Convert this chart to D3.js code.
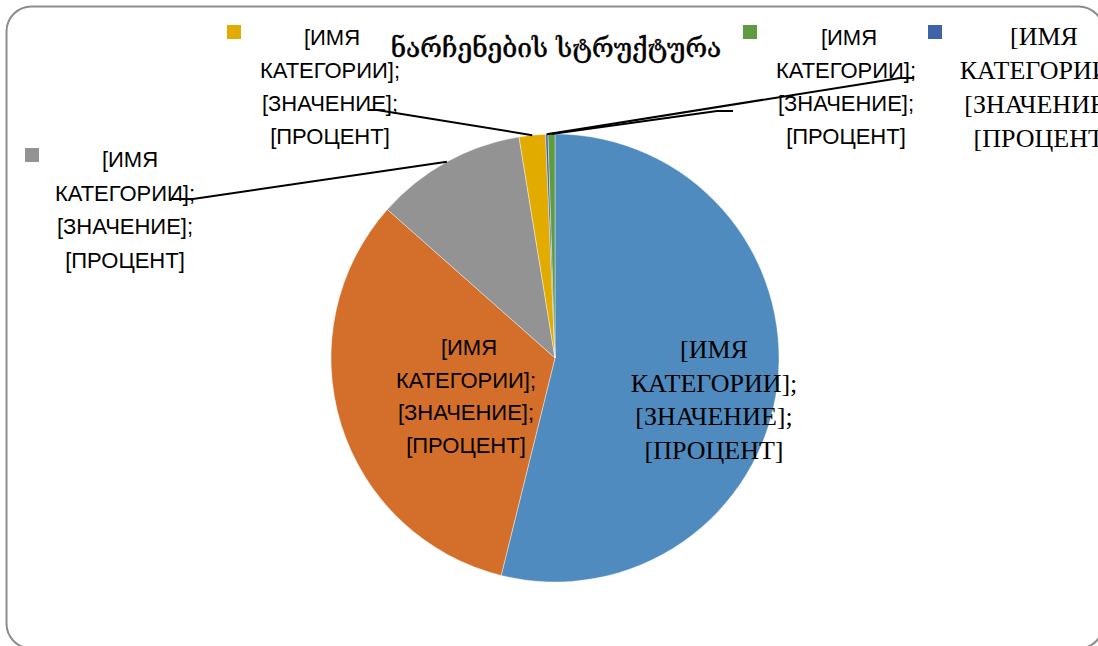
<!DOCTYPE html>
<html>
<head>
<meta charset="utf-8">
<script src="https://cdn.jsdelivr.net/npm/d3@7/dist/d3.min.js"></script>
<style>
  html, body { margin: 0; padding: 0; background: #fff; overflow: hidden; }
  svg { display: block; }
</style>
</head>
<body>
<div id="chart"></div>
<script>
'use strict';

// chart data (pie starts at 12 o'clock, goes clockwise)
const title = 'ნარჩენების სტრუქტურა';
const categories = ['cat1', 'cat2', 'cat3', 'cat4', 'cat5', 'cat6'];
const values = [53.9, 32.7, 10.9, 1.9, 0.17, 0.5];
const colors = ['#4f8bbf', '#d46f2b', '#939393', '#e2ab00', '#3f62ab', '#5f9b3f'];
const labelLines = ['[ИМЯ', 'КАТЕГОРИИ];', '[ЗНАЧЕНИЕ];', '[ПРОЦЕНТ]'];

// label layout per slice
const labelLayout = [
    {x: 714, y: 358, dy: 33.5, serif: true, key: false, firstX: 714, line: null},
    {x: 466, y: 355, dy: 32.5, serif: false, key: false, firstX: 469, line: null},
    {x: 125, y: 167, dy: 33.5, serif: false, key: [25, 148], firstX: 130, line: [[193, 199], [170, 199]]},
    {x: 330, y: 45, dy: 33, serif: false, key: [227, 25], firstX: 332, line: [[377, 110], [368, 110]]},
    {x: 1043, y: 45, dy: 34, serif: true, key: [928, 25], firstX: 1044, line: [[900, 78], [914, 78]]},
    {x: 846, y: 45, dy: 33, serif: false, key: [743, 25], firstX: 849, line: [[717, 111], [733, 111]]}
];

const width = 1098;
const height = 646;
const cx = 555, cy = 358, radius = 224;

const svg = d3.select('#chart').append('svg')
    .attr('width', width)
    .attr('height', height);

// chart border
svg.append('rect')
    .attr('x', 6.5)
    .attr('y', 6.5)
    .attr('width', 1097)
    .attr('height', 642)
    .attr('rx', 25)
    .attr('fill', '#fff')
    .attr('stroke', '#8c8c8c')
    .attr('stroke-width', 2);

svg.append('text')
    .attr('x', 556)
    .attr('y', 57)
    .attr('text-anchor', 'middle')
    .attr('font-family', '"DejaVu Serif", "DejaVu Sans", serif')
    .attr('font-size', 26.3)
    .attr('fill', '#000')
    .attr('stroke', '#000')
    .attr('stroke-width', 0.5)
    .text(title);

const pie = d3.pie().sort(null).value(d => d);
const arcs = pie(values);
const arc = d3.arc().innerRadius(0).outerRadius(radius);

const g = svg.append('g').attr('transform', `translate(${cx},${cy})`);
g.selectAll('path')
    .data(arcs)
    .enter()
    .append('path')
    .attr('d', arc)
    .attr('fill', (d, i) => colors[i])
    .attr('stroke', '#fff')
    .attr('stroke-width', 0.4);

// leader lines from slice mid-point on the rim
const line = d3.line();
arcs.forEach((d, i) => {
    const lay = labelLayout[i];
    if (!lay.line) return;
    const a = (d.startAngle + d.endAngle) / 2;
    const start = [cx + radius * Math.sin(a), cy - radius * Math.cos(a)];
    svg.append('path')
        .attr('d', line([start].concat(lay.line)))
        .attr('fill', 'none')
        .attr('stroke', '#000')
        .attr('stroke-width', 2);
});

// data labels
labelLayout.forEach((lay, i) => {
    if (lay.key) {
        svg.append('rect')
            .attr('x', lay.key[0])
            .attr('y', lay.key[1])
            .attr('width', 14)
            .attr('height', 14)
            .attr('fill', colors[i]);
    }
    const t = svg.append('text')
        .attr('text-anchor', 'middle')
        .attr('font-family', lay.serif ? '"Liberation Serif", "Times New Roman", serif' : '"Liberation Sans", Arial, sans-serif')
        .attr('font-size', lay.serif ? 26 : 22)
        .attr('fill', '#000');
    labelLines.forEach((s, j) => {
        t.append('tspan')
            .attr('x', j === 0 ? lay.firstX : lay.x)
            .attr('y', lay.y + j * lay.dy)
            .text(s);
    });
});
</script>
</body>
</html>
